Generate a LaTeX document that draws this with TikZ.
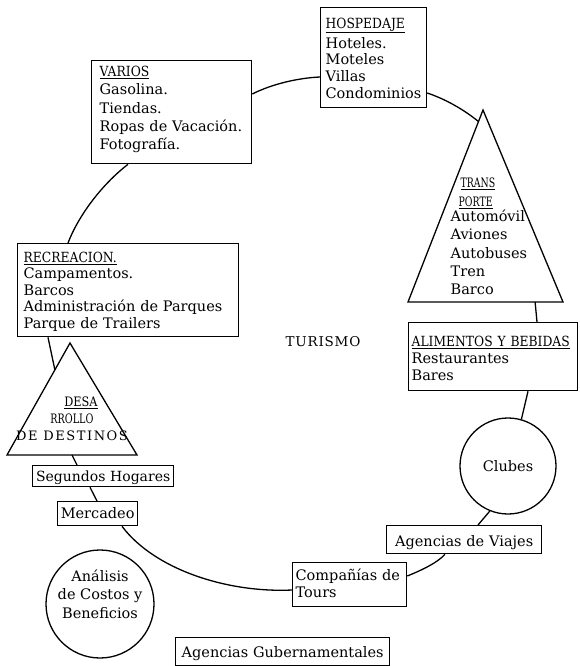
\documentclass[tikz,border=0pt]{standalone}
\usepackage{fontspec}
\setmainfont{DejaVu Serif}
\usetikzlibrary{calc}
\newcommand\hdg[1]{{\fontsize{14pt}{16pt}\selectfont\addfontfeature{FakeStretch=0.88}\underline{#1}}}
\newcommand\trh[2]{{\fontsize{13pt}{15pt}\selectfont\addfontfeature{FakeStretch=#1}#2}}
\newcommand\up[1]{\rule{0pt}{#1}}
\newcommand\dn[1]{\rule[-#1]{0pt}{#1}}
\begin{document}
\begin{tikzpicture}[x=1pt,y=-1pt,line width=1.3pt,
  box/.style={draw, rectangle, line width=1.3pt, anchor=north west, inner ysep=0pt, inner xsep=3pt, align=left,
    font=\fontsize{14.5pt}{17pt}\selectfont},
  cbox/.style={box, align=center},
  circ/.style={draw, circle, line width=1.3pt, inner sep=0pt, font=\fontsize{14.5pt}{18.5pt}\selectfont},
  ring/.style={line width=1.3pt},
  shapeline/.style={line width=1.3pt, line join=miter}]
\useasboundingbox (0,0) rectangle (579,666);

% boxes
\node[box, text width=144pt, inner xsep=8pt, font=\fontsize{14.5pt}{18.3pt}\selectfont] (varios) at (91,60)
  {\up{16pt}\hdg{VARIOS}\\Gasolina.\\Tiendas.\\Ropas de Vacación.\\Fotografía.\dn{13.8pt}};
\node[box, text width=96pt, inner xsep=5pt, font=\fontsize{14.5pt}{16.8pt}\selectfont] (hosp) at (320,7)
  {\up{20.5pt}\hdg{HOSPEDAJE}\\[3.2pt]Hoteles.\\Moteles\\Villas\\Condominios\dn{9.1pt}};
\node[box, text width=209pt, inner xsep=6pt, font=\fontsize{14.5pt}{16.6pt}\selectfont] (recr) at (17,243)
  {\up{18.5pt}\hdg{RECREACION.}\\Campamentos.\\Barcos\\Administración de Parques\\Parque de Trailers\dn{8.1pt}};
\node[box, text width=163pt, font=\fontsize{14.5pt}{17.2pt}\selectfont] (alim) at (408,322)
  {\up{23.5pt}\hdg{ALIMENTOS Y BEBIDAS}\\Restaurantes\\Bares\dn{10.1pt}};
\node[cbox, text width=135pt, font=\fontsize{14pt}{17pt}\selectfont] (segu) at (32,465)
  {\up{16pt}Segundos Hogares\dn{5pt}};
\node[cbox, text width=74pt] (merc) at (57,501)
  {\up{17pt}Mercadeo\dn{7pt}};
\node[cbox, text width=149pt] (agv) at (386,525)
  {\up{21pt}Agencias de Viajes\dn{7pt}};
\node[box, text width=108pt, font=\fontsize{14.5pt}{16.5pt}\selectfont] (comp) at (292,562)
  {\up{18pt}Compañías de\\Tours\dn{9.5pt}};
\node[cbox, text width=208pt] (agg) at (175,637)
  {\up{20pt}Agencias Gubernamentales\dn{8pt}};

% circles
\node[circ, minimum size=96pt] (clubes) at (508,466) {Clubes};
\node[circ, minimum size=108pt,
  label={[name=analt, align=center, yshift=10pt, font=\fontsize{14.5pt}{18.5pt}\selectfont]center:{Análisis\\de Costos y\\Beneficios}}]
  (anal) at (100,604) {};

% centre title
\node[font=\fontsize{13.5pt}{15pt}\selectfont] (tur) at (323,342) {{\addfontfeature{LetterSpace=6}TURISMO}};

% triangle TRANSPORTE
\coordinate (tpA) at (483,110);
\coordinate (tpL) at (408,302);
\coordinate (tpR) at (563,302);
\draw[shapeline] (tpA) -- (tpL) -- (tpR) -- cycle;
\node[anchor=north west, inner sep=0pt, align=left, font=\fontsize{14.5pt}{18.3pt}\selectfont] (tpt) at (450,175)
  {\up{12pt}\hspace*{10pt}\trh{0.72}{\underline{TRANS}}\\[0.7pt]\hspace*{8pt}\trh{0.72}{\underline{PORTE}}\\[-3.3pt]Automóvil\\Aviones\\Autobuses\\Tren\\Barco};

% triangle DESARROLLO
\coordinate (ddA) at (70,343);
\coordinate (ddL) at (7,455);
\coordinate (ddR) at (137,455);
\draw[shapeline] (ddA) -- (ddL) -- (ddR) -- cycle;
\node[anchor=north, inner sep=0pt, align=center, font=\fontsize{13pt}{17pt}\selectfont] (ddt) at (72,394)
  {\up{12pt}\hspace*{18pt}\trh{0.87}{\underline{DESA}}\\\trh{0.74}{RROLLO}\hspace*{9pt}\\{\addfontfeature{LetterSpace=12}DE DESTINOS}};

% ring connectors
\draw[ring] ($(varios.north east)+(0,34)$) .. controls (272,84) and (298,78) .. ($(hosp.north west)+(0,70)$);
\draw[ring] ($(hosp.north east)+(0,86)$) .. controls (445,99) and (463,109) .. ($(tpA)!0.06!(tpL)$);
\draw[ring] ($(varios.south west)+(37,0)$) .. controls (105,182) and (80,212) .. ($(recr.north west)+(51,0)$);
\draw[ring] ($(recr.south west)+(31,0)$) -- ($(ddA)!0.24!(ddL)$);
\draw[ring] ($(ddL)!0.5!(ddR)$) -- ($(segu.north west)+(45,0)$);
\draw[ring] ($(segu.south west)+(58,0)$) -- ($(merc.north west)+(40,0)$);
\draw[ring] ($(merc.south west)+(65,0)$) .. controls (155,570) and (228,593) .. ($(comp.north west)+(0,28)$);
\draw[ring] ($(comp.north east)+(0,14)$) .. controls (422,570) and (437,563) .. ($(agv.south west)+(59,0)$);
\draw[ring] ($(agv.north west)+(92,0)$) -- (clubes.-112);
\draw[ring] (clubes.74) -- ($(alim.south west)+(120,0)$);
\draw[ring] ($(tpL)!0.82!(tpR)$) -- ($(alim.north west)+(129,0)$);
\end{tikzpicture}
\end{document}
